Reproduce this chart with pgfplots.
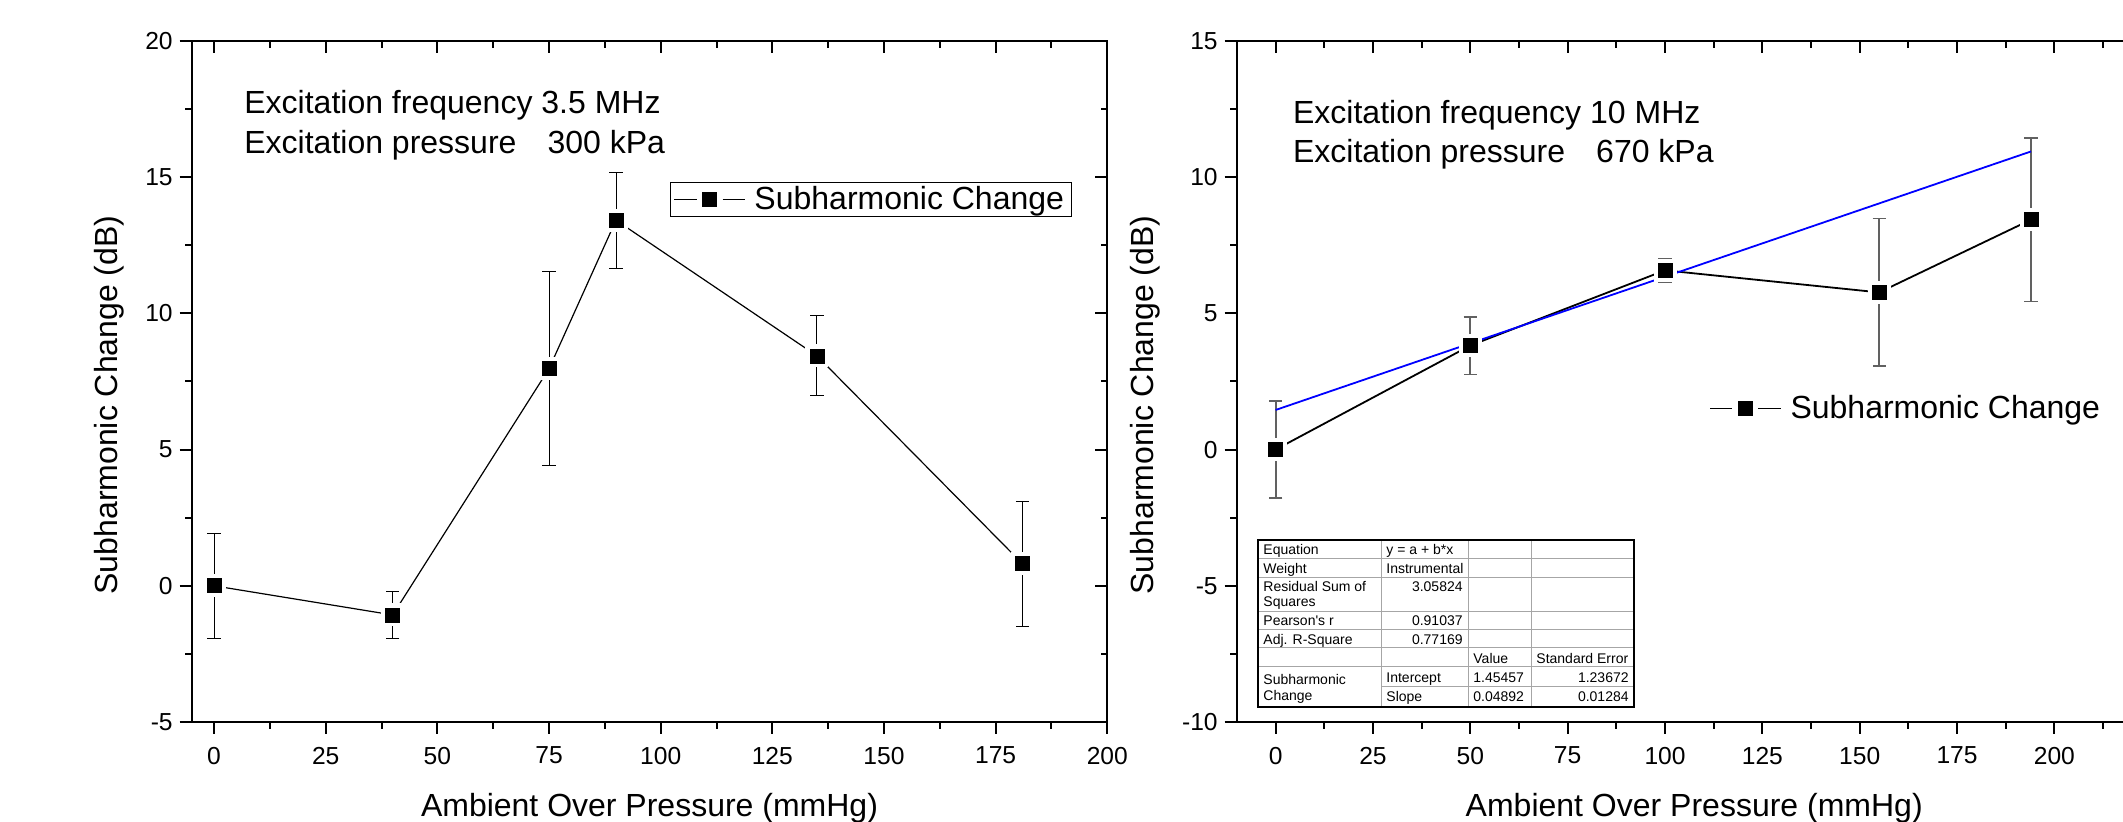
\documentclass[border=0pt]{standalone}
\usepackage{fontspec}
\setmainfont{Liberation Sans}
\usepackage{pgfplots}
\usepackage{pgfplotstable}
\pgfplotsset{compat=1.18}

\newcommand\bigfont{\fontsize{16}{19}\selectfont}
\newcommand\tabfont{\fontsize{7}{8}\selectfont}
\newcommand\tl[3]{\node[anchor=base west,inner sep=0,font=\tabfont] at (#1,#2) {#3};}
\newcommand\tr[3]{\node[anchor=base east,inner sep=0,font=\tabfont] at (#1,#2) {#3};}

% pressure (mmHg), change (dB), error (dB)
\pgfplotstableread{
x     y      e
0     0      1.93
40   -1.07   0.85
75    7.97   3.55
90   13.42   1.76
135   8.44   1.47
181   0.81   2.30
}\lowfreq
\pgfplotstableread{
x     y      e
0     0      1.78
50    3.82   1.06
100   6.58   0.43
155   5.77   2.71
194   8.44   3.00
}\highfreq

\pgfplotsset{
  orig/.style={
    scale only axis, anchor=south west,
    height=340.5pt,
    axis line style={line width=1pt},
    every tick/.style={line width=1pt, black},
    major tick length=6pt, minor tick length=3.3pt,
    minor x tick num=1, minor y tick num=1,
    ytick distance=5,
    /pgf/number format/assume math mode=true,
    ticklabel style={font=\fontsize{12.3}{14}\selectfont},
  },
  % bottom/left ticks outside, with labels
  base/.style={orig, tick align=outside, xtick pos=left, ytick pos=left,
    xticklabel style={yshift=-3pt},
    xlabel={Ambient Over Pressure (mmHg)},
    ylabel={Subharmonic Change (dB)},
    label style={font=\bigfont},
    xlabel style={at={(axis description cs:0.5,-0.1395)}, anchor=base},
  },
  % top/right ticks inside, no labels
  mirror/.style={orig, tick align=inside, xtick pos=right, ytick pos=right,
    xticklabels={}, yticklabels={}},
  gapmark/.style={only marks, mark=square*, mark size=5.5pt,
    mark options={solid, fill=white, draw=white, line width=0pt}},
  blackmark/.style={only marks, mark=square*, mark size=3.5pt,
    mark options={solid, fill=black, draw=black, line width=0.3pt}},
  legbox/.style={legend style={font=\bigfont, inner xsep=1.5pt, inner ysep=0pt,
      nodes={inner xsep=2pt, inner ysep=2pt},
      /tikz/every odd column/.style={column sep=2.5pt}}},
}

\begin{document}
\begin{tikzpicture}
\useasboundingbox (0,0) rectangle (1061.5pt,411pt);
\clip (0,0) rectangle (1061.5pt,411pt);

% ---- left panel: 3.5 MHz ----
\begin{axis}[mirror, at={(95.85pt,50pt)}, width=457.8pt,
  xmin=-5, xmax=200, ymin=-5, ymax=20, xtick={0,25,...,200}]
\end{axis}
\begin{axis}[base, legbox, at={(95.85pt,50pt)}, width=457.8pt,
  xmin=-5, xmax=200, ymin=-5, ymax=20, xtick={0,25,...,200},
  ylabel style={at={(axis description cs:-0.0903,0.4655)}, anchor=center},
  legend style={at={(rel axis cs:0.5226,0.7934)}, anchor=north west,
    draw=black, line width=0.5pt}]
\addplot[black, line width=0.6pt, forget plot] table[x=x, y=y] {\lowfreq};
\addplot[gapmark, forget plot] table[x=x, y=y] {\lowfreq};
\addplot[draw=none, forget plot,
  error bars/.cd, y dir=both, y explicit,
  error bar style={solid, line width=0.5pt, draw=black},
  error mark options={rotate=90, mark size=3.3pt, line width=0.5pt, draw=black}]
  table[x=x, y=y, y error=e] {\lowfreq};
\addplot[blackmark,
  legend image code/.code={
    \draw[black, line width=0.6pt] (0pt,0pt) -- (11.2pt,0pt) (24.1pt,0pt) -- (35.3pt,0pt);
    \draw plot coordinates {(17.65pt,0pt)};}]
  table[x=x, y=y] {\lowfreq};
\addlegendentry{Subharmonic Change}
\end{axis}

% ---- right panel: 10 MHz ----
\begin{axis}[mirror, at={(618.35pt,50pt)}, width=457.5pt,
  xmin=-10, xmax=225, ymin=-10, ymax=15, xtick={0,25,...,225}]
\end{axis}
\begin{axis}[base, legbox, at={(618.35pt,50pt)}, width=457.5pt,
  xmin=-10, xmax=225, ymin=-10, ymax=15,
  xtick={0,25,...,225},
  xticklabels={0,25,50,75,100,125,150,175,200,{}},
  ylabel style={at={(axis description cs:-0.1002,0.4655)}, anchor=center},
  legend style={at={(rel axis cs:0.5126,0.4602)}, anchor=west,
    draw=none, fill=none}]
\addplot[black, line width=0.9pt, forget plot] table[x=x, y=y] {\highfreq};
\addplot[gapmark, forget plot] table[x=x, y=y] {\highfreq};
\addplot[draw=none, forget plot,
  error bars/.cd, y dir=both, y explicit,
  error bar style={solid, line width=0.9pt, draw=black!62},
  error mark options={rotate=90, mark size=3.3pt, line width=0.9pt, draw=black!62}]
  table[x=x, y=y, y error=e] {\highfreq};
\addplot[blackmark,
  legend image code/.code={
    \draw[black, line width=0.9pt] (0pt,0pt) -- (11.2pt,0pt) (24.1pt,0pt) -- (35.3pt,0pt);
    \draw plot coordinates {(17.65pt,0pt)};}]
  table[x=x, y=y] {\highfreq};
\addlegendentry{Subharmonic Change}
% linear fit y = 1.45457 + 0.04892 x
\addplot[blue, line width=0.9pt, forget plot] coordinates {(0,1.45457) (194,10.94505)};
\end{axis}

% ---- annotations, in image pixels ----
\begin{scope}[x=0.5pt, y=-0.5pt, shift={(0pt,411pt)}]
\node[anchor=base west, inner sep=0, font=\bigfont] at (244,114) {Excitation frequency 3.5 MHz};
\node[anchor=base west, inner sep=0, font=\bigfont] at (244,153.5) {Excitation pressure\hspace{0.97em}300 kPa};
\node[anchor=base west, inner sep=0, font=\bigfont] at (1292.7,123.5) {Excitation frequency 10 MHz};
\node[anchor=base west, inner sep=0, font=\bigfont] at (1292.7,163) {Excitation pressure\hspace{0.97em}670 kPa};

% fit table
\fill[white] (1258,540) rectangle (1634,707);
\draw[black!35, line width=0.5pt]
  (1258,559) -- (1634,559) (1258,578) -- (1634,578) (1258,612) -- (1634,612)
  (1258,630) -- (1634,630) (1258,648) -- (1634,648) (1258,667) -- (1634,667)
  (1381,687) -- (1634,687)
  (1381,540) -- (1381,707) (1468,540) -- (1468,707) (1531,540) -- (1531,707);
\draw[black, line width=0.6pt] (1258,540) rectangle (1634,707);
\tl{1263}{555}{Equation}        \tl{1386}{555}{y = a + b*x}
\tl{1263}{573.5}{Weight}        \tl{1386}{573.5}{Instrumental}
\tl{1263}{591.5}{Residual Sum of} \tr{1463}{591.5}{3.05824}
\tl{1263}{606.5}{Squares}
\tl{1263}{626}{Pearson\textquotesingle s r} \tr{1463}{626}{0.91037}
\tl{1263}{645}{Adj. R-Square}   \tr{1463}{645}{0.77169}
\tl{1473}{663.5}{Value}         \tl{1536}{663.5}{Standard Error}
\tl{1263}{685}{Subharmonic}     \tl{1386}{683}{Intercept}
\tl{1473}{683}{1.45457}         \tr{1629}{683}{1.23672}
\tl{1263}{701}{Change}          \tl{1386}{702}{Slope}
\tl{1473}{702}{0.04892}         \tr{1629}{702}{0.01284}
\end{scope}
\end{tikzpicture}
\end{document}
